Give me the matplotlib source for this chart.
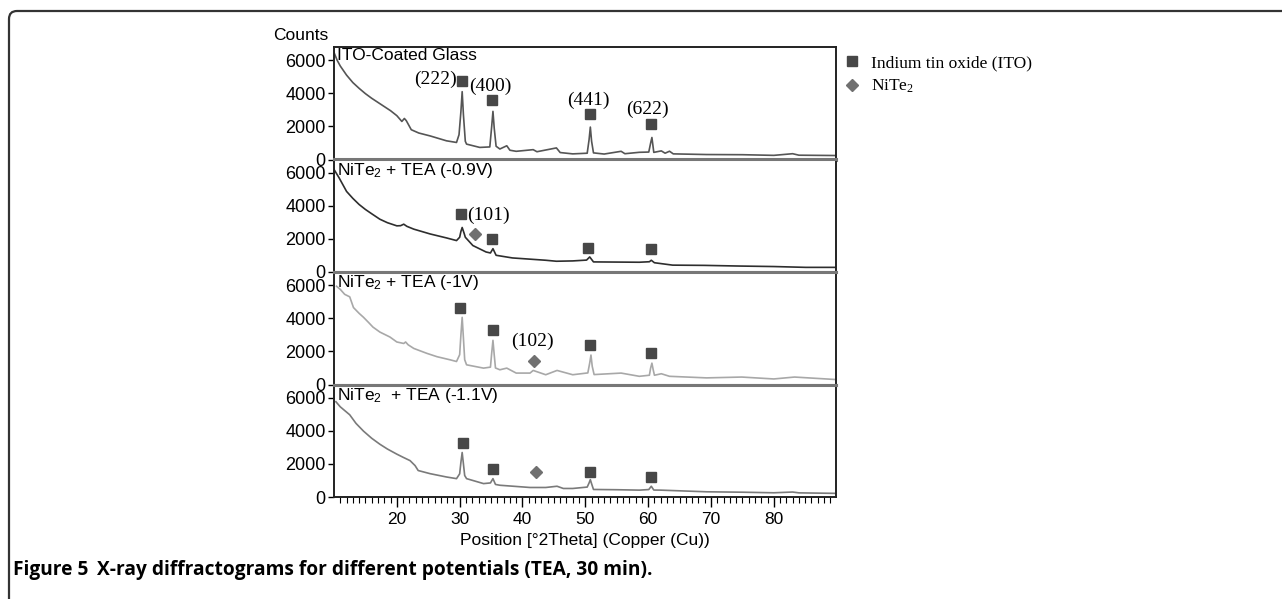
import matplotlib.pyplot as plt
from matplotlib.path import Path
from matplotlib.patches import PathPatch
from matplotlib.lines import Line2D

plt.rcParams['font.family'] = ['Liberation Sans', 'DejaVu Sans']
plt.rcParams['mathtext.default'] = 'regular'

# ---- data (2theta in degrees, counts) ----
ito_x = [10.0, 10.5, 11.0, 12.0, 13.0, 14.0, 15.0, 16.0, 17.0, 18.0,
         19.0, 20.0, 20.8, 21.2, 21.5, 22.3, 23.5, 25.3, 27.9, 29.5,
         29.9, 30.2, 30.4, 30.6, 30.9, 31.1, 33.2, 34.8, 35.1, 35.3,
         35.5, 35.8, 36.4, 37.5, 38.0, 39.0, 41.7, 42.3, 45.4, 46.0,
         48.0, 50.3, 50.6, 50.8, 51.0, 51.3, 53.0, 55.7, 56.3, 58.6,
         60.1, 60.4, 60.6, 60.9, 62.1, 62.7, 63.4, 64.0, 69.3, 75.0,
         80.0, 83.0, 84.0, 89.9]
ito_y = [6470, 6000, 5650, 5100, 4650, 4300, 3980, 3700, 3450, 3200,
         2950, 2650, 2300, 2480, 2350, 1800, 1600, 1425, 1130, 1030,
         1500, 2900, 4100, 2700, 1100, 930, 730, 760, 2000, 2910,
         1900, 800, 635, 830, 560, 495, 595, 470, 700, 420,
         340, 380, 1200, 1960, 1100, 400, 330, 495, 350, 435,
         450, 1000, 1330, 430, 520, 380, 500, 340, 300, 290,
         250, 350, 260, 240]

v09_x = [10.0, 10.8, 12.0, 13.0, 14.0, 15.0, 16.0, 17.3, 18.5, 20.0,
         20.6, 21.1, 21.6, 22.7, 25.3, 27.9, 29.5, 30.0, 30.2, 30.4,
         30.7, 30.9, 32.1, 34.2, 34.9, 35.3, 35.8, 38.4, 43.7, 45.4,
         48.0, 50.2, 50.7, 51.3, 55.0, 58.6, 60.2, 60.5, 61.0, 63.9,
         69.0, 74.5, 80.0, 85.1, 89.9]
v09_y = [6200, 5700, 4870, 4450, 4080, 3780, 3520, 3190, 2980, 2790,
         2800, 2890, 2760, 2590, 2300, 2060, 1900, 2100, 2450, 2690,
         2350, 2100, 1600, 1210, 1150, 1410, 1010, 850, 710, 650,
         670, 720, 910, 610, 600, 590, 620, 710, 560, 415,
         400, 360, 330, 280, 280]

v10_x = [10.4, 11.0, 11.7, 12.5, 13.1, 14.0, 14.7, 15.5, 16.2, 17.3,
         18.9, 20.0, 21.1, 21.4, 21.8, 22.7, 24.8, 26.4, 28.5, 29.5,
         30.0, 30.2, 30.4, 30.6, 30.8, 31.1, 33.8, 34.9, 35.1, 35.3,
         35.5, 35.7, 36.4, 37.5, 39.0, 41.2, 41.7, 43.7, 45.5, 48.0,
         50.4, 50.7, 50.9, 51.1, 51.4, 55.7, 58.6, 60.2, 60.4, 60.6,
         60.8, 61.0, 62.1, 63.4, 69.3, 74.9, 80.0, 83.3, 89.9]
v10_y = [5940, 5750, 5450, 5300, 4650, 4300, 4060, 3750, 3470, 3170,
         2870, 2570, 2480, 2570, 2400, 2180, 1880, 1680, 1490, 1390,
         1800, 3000, 4060, 2800, 1500, 1190, 990, 1050, 1900, 2670,
         1800, 1000, 890, 990, 690, 690, 850, 590, 850, 590,
         700, 1300, 1780, 1100, 600, 690, 495, 560, 1000, 1290,
         900, 560, 650, 495, 400, 450, 335, 450, 300]

v11_x = [10.3, 11.0, 12.5, 13.5, 14.7, 16.0, 17.3, 18.5, 20.0, 21.0,
         22.1, 22.9, 23.4, 25.3, 27.9, 29.5, 30.0, 30.2, 30.4, 30.6,
         30.8, 31.1, 33.8, 34.9, 35.3, 35.7, 36.4, 41.2, 43.7, 45.5,
         46.5, 48.0, 50.3, 50.6, 50.8, 51.0, 51.3, 55.0, 58.6, 60.1,
         60.5, 60.9, 62.0, 69.3, 75.0, 80.0, 83.0, 84.0, 89.9]
v11_y = [5760, 5450, 4970, 4450, 3980, 3550, 3190, 2900, 2590, 2400,
         2200, 1900, 1600, 1410, 1210, 1110, 1400, 2100, 2690, 2000,
         1300, 1110, 810, 850, 1110, 760, 710, 575, 575, 650,
         515, 515, 600, 850, 1050, 800, 455, 440, 415, 450,
         650, 420, 415, 315, 290, 255, 300, 250, 220]

titles = ['ITO-Coated Glass', 'NiTe$_2$ + TEA (-0.9V)',
          'NiTe$_2$ + TEA (-1V)', 'NiTe$_2$  + TEA (-1.1V)']
curve_colors = ['#555555', '#2e2e2e', '#a8a8a8', '#7a7a7a']

# ITO reflections (squares) and NiTe2 reflections (diamonds) per panel
sq_x = [[30.4, 35.1, 50.7, 60.5], [30.2, 35.1, 50.5, 60.5],
        [30.0, 35.3, 50.7, 60.5], [30.5, 35.3, 50.7, 60.5]]
sq_y = [[4750, 3620, 2730, 2140], [3500, 2020, 1430, 1370],
        [4630, 3270, 2380, 1900], [3270, 1720, 1540, 1190]]
sq_lab = [['(222)', '(400)', '(441)', '(622)'], ['', '', '', ''],
          ['', '', '', ''], ['', '', '', '']]
di_x = [[], [32.4], [41.8], [42.1]]
di_y = [[], [2320], [1430], [1490]]
di_lab = [[], ['(101)'], ['(102)'], ['']]

# label offsets (pixels) from their marker
sq_off = {'(222)': (-27, 2), '(400)': (-1, 13), '(441)': (-1, 14), '(622)': (-4, 15)}
di_off = {'(101)': (14, 18), '(102)': (-1, 19)}

xs = [ito_x, v09_x, v10_x, v11_x]
ys = [ito_y, v09_y, v10_y, v11_y]

W, H = 1282, 599
fig = plt.figure(figsize=(W / 100, H / 100), dpi=100)


def px(x, y):
    return (x / W, 1 - y / H)


left, right = 334 / W, 836 / W
top, bottom = 1 - 47 / H, 1 - 497 / H
ph = (top - bottom) / 4

sq_col = '#474747'
di_col = '#707070'
serif = 'Liberation Serif'

axes = []
for i in range(4):
    ax = fig.add_axes([left, top - (i + 1) * ph, right - left, ph])
    axes.append(ax)
    ax.plot(xs[i], ys[i], color=curve_colors[i], lw=1.2)
    ax.plot(sq_x[i], sq_y[i], 's', color=sq_col, ms=6.5, ls='none')
    if di_x[i]:
        ax.plot(di_x[i], di_y[i], 'D', color=di_col, ms=6.5, ls='none')
    for x, y, lab in zip(sq_x[i], sq_y[i], sq_lab[i]):
        if lab:
            ax.annotate(lab, (x, y), xytext=sq_off[lab], textcoords='offset pixels',
                        ha='center', va='center', fontsize=14, family=serif)
    for x, y, lab in zip(di_x[i], di_y[i], di_lab[i]):
        if lab:
            ax.annotate(lab, (x, y), xytext=di_off[lab], textcoords='offset pixels',
                        ha='center', va='center', fontsize=14, family=serif)
    ax.text(0.006, 0.99, titles[i], transform=ax.transAxes, ha='left', va='top', fontsize=12.5)
    ax.set_xlim(10, 89.9)
    ax.set_ylim(0, 6800)
    ax.set_yticks([0, 2000, 4000, 6000])
    ax.tick_params(axis='y', labelsize=13, length=4, width=1, direction='out', pad=2)
    for s in ax.spines.values():
        s.set_color('#222222')
        s.set_linewidth(1.4)
    if i > 0:
        ax.spines['top'].set_color('#777777')
        ax.spines['top'].set_linewidth(2.2)
    if i < 3:
        ax.spines['bottom'].set_color('#777777')
        ax.spines['bottom'].set_linewidth(2.2)
        ax.tick_params(axis='x', bottom=False, labelbottom=False)

bx = axes[3]
bx.set_xticks([20, 30, 40, 50, 60, 70, 80])
bx.set_xticks(range(11, 90), minor=True)
bx.tick_params(axis='x', which='major', labelsize=12.5, length=7, width=1, pad=4)
bx.tick_params(axis='x', which='minor', length=4, width=0.8)
bx.set_xlabel('Position [°2Theta] (Copper (Cu))', fontsize=12.5, labelpad=4)

fig.text(273 / W, 1 - 35 / H, 'Counts', ha='left', va='center', fontsize=12.5)

# legend
handles = [Line2D([], [], marker='s', color=sq_col, ls='none', ms=6.5),
           Line2D([], [], marker='D', color=di_col, ls='none', ms=6)]
fig.legend(handles, ['Indium tin oxide (ITO)', 'NiTe$_2$'],
           loc='upper left', bbox_to_anchor=(836 / W, 1 - 48 / H), frameon=False,
           prop={'family': serif, 'size': 12.5},
           handletextpad=0.6, labelspacing=0.4, handlelength=1.0, borderaxespad=0)

# frame round the figure, open to the right and bottom
r = 8
verts = [px(9, 605), px(9, 11 + r), px(9, 11), px(9 + r, 11), px(1290, 11)]
codes = [Path.MOVETO, Path.LINETO, Path.CURVE3, Path.CURVE3, Path.LINETO]
fig.add_artist(PathPatch(Path(verts, codes), transform=fig.transFigure,
                         fill=False, ec='#333333', lw=1.6))

fig.text(13 / W, 1 - 570 / H, 'Figure 5', ha='left', va='center',
         fontsize=13.8, fontweight='bold', family='Open Sans')
fig.text(97 / W, 1 - 570 / H, 'X-ray diffractograms for different potentials (TEA, 30 min).',
         ha='left', va='center', fontsize=13.8, fontweight='bold', family='Open Sans')

fig.savefig('out.png', dpi=100)
